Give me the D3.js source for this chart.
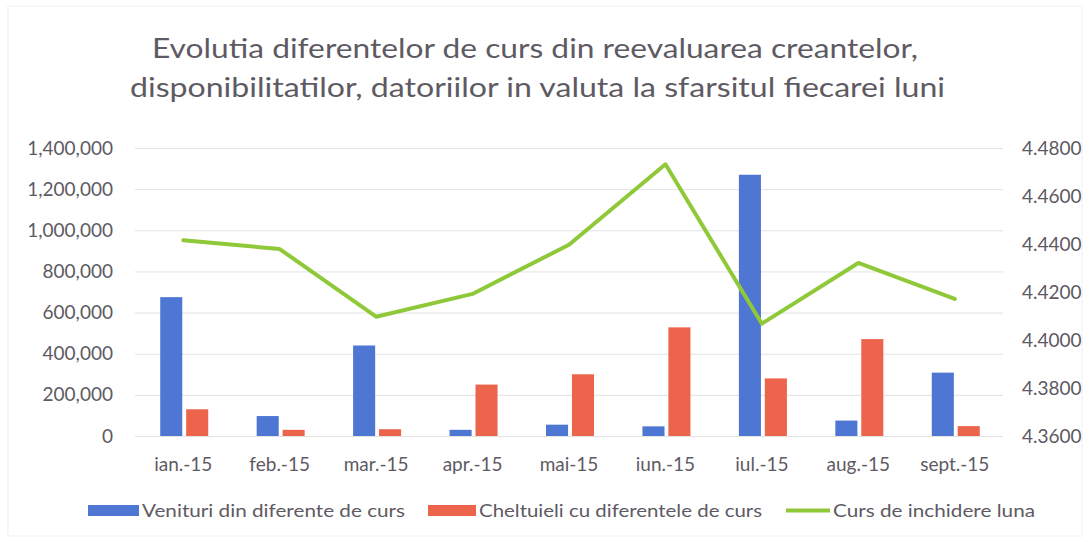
<!DOCTYPE html>
<html><head><meta charset="utf-8">
<script src="https://cdn.jsdelivr.net/npm/d3@7"></script>
<style>
html,body{margin:0;padding:0;background:#fff;}
svg{display:block;font-family:Lato,"Open Sans",sans-serif;}
</style></head>
<body><svg id="chart" width="1089" height="542"></svg>
<script>
const categories = ["ian.-15","feb.-15","mar.-15","apr.-15","mai-15","iun.-15","iul.-15","aug.-15","sept.-15"];
const venituri = [675000, 97000, 440000, 30000, 55000, 47000, 1270000, 75000, 308000];
const cheltuieli = [130000, 30000, 33000, 250000, 300000, 528000, 280000, 471000, 48000];
const curs = [4.4416, 4.4379, 4.4097, 4.4192, 4.4397, 4.4732, 4.4068, 4.4321, 4.4171];
const leftTicks = [0, 200000, 400000, 600000, 800000, 1000000, 1200000, 1400000];
const rightTicks = [4.36, 4.38, 4.40, 4.42, 4.44, 4.46, 4.48];
const titleLines = ["Evolutia diferentelor de curs din reevaluarea creantelor,",
                    "disponibilitatilor, datoriilor in valuta la sfarsitul fiecarei luni"];
const seriesNames = ["Venituri din diferente de curs","Cheltuieli cu diferentele de curs","Curs de inchidere luna"];

const colBlue = "#4d77d2", colRed = "#ec644c", colGreen = "#8fc93a", txt = "#5e5a63";
const svg = d3.select("#chart");

// faint scan frame
svg.append("rect").attr("x",8).attr("y",6).attr("width",1074).attr("height",530)
  .attr("fill","none").attr("stroke","#f0f0f0").attr("stroke-width",1);

const x = d3.scaleBand().domain(categories).range([135,1003]).paddingInner(0).paddingOuter(0);
const yL = d3.scaleLinear().domain([0,1400000]).range([436,148]);
const yR = d3.scaleLinear().domain([4.36,4.48]).range([436,148]);
const xs = d3.scaleBand().domain(["v","c"]).range([0,48]).paddingInner(0.15);
const cx = c => x(c) + x.bandwidth()/2;

// gridlines
svg.append("g").selectAll("line").data(leftTicks).join("line")
  .attr("x1",135).attr("x2",1003)
  .attr("y1",d=>yL(d)+0.5).attr("y2",d=>yL(d)+0.5)
  .attr("stroke","#e2e2e2").attr("stroke-width",1);

// left axis
const fmt = d3.format(",");
const gL = svg.append("g").attr("transform","translate(121,0)")
  .call(d3.axisLeft(yL).tickValues(leftTicks).tickFormat(d=>fmt(d)).tickSize(0).tickPadding(8));
gL.select(".domain").remove();
gL.selectAll("text").attr("fill",txt).attr("font-size",19).attr("font-family","Lato");

// right axis
const gR = svg.append("g").attr("transform","translate(1014,0)")
  .call(d3.axisRight(yR).tickValues(rightTicks).tickFormat(d3.format(".4f")).tickSize(0).tickPadding(8));
gR.select(".domain").remove();
gR.selectAll("text").attr("fill",txt).attr("font-size",19).attr("font-family","Lato");

// x axis
const gX = svg.append("g").attr("transform","translate(0,436)")
  .call(d3.axisBottom(x).tickSize(0).tickPadding(22));
gX.select(".domain").remove();
gX.selectAll("text").attr("fill",txt).attr("font-size",19).attr("font-family","Lato");

// bars
const bars = svg.append("g");
bars.selectAll(".v").data(categories).join("rect")
  .attr("x",(d)=>cx(d)-23+xs("v")).attr("width",xs.bandwidth())
  .attr("y",(d,i)=>yL(venituri[i])).attr("height",(d,i)=>yL(0)-yL(venituri[i]))
  .attr("fill",colBlue);
bars.selectAll(".c").data(categories).join("rect")
  .attr("x",(d)=>cx(d)-23+xs("c")).attr("width",xs.bandwidth())
  .attr("y",(d,i)=>yL(cheltuieli[i])).attr("height",(d,i)=>yL(0)-yL(cheltuieli[i]))
  .attr("fill",colRed);

// line
const line = d3.line().x((d,i)=>cx(categories[i])).y(d=>yR(d));
svg.append("path").datum(curs).attr("d",line)
  .attr("fill","none").attr("stroke",colGreen).attr("stroke-width",4)
  .attr("stroke-linejoin","round").attr("stroke-linecap","round");

// title
const tl = [{t:titleLines[0], x:152, w:766, y:58},{t:titleLines[1], x:130, w:815, y:97}];
svg.append("g").selectAll("text").data(tl).join("text")
  .attr("x",d=>d.x).attr("y",d=>d.y).text(d=>d.t)
  .attr("font-size",27).attr("fill",txt).attr("font-family","Lato")
  .attr("textLength",d=>d.w).attr("lengthAdjust","spacingAndGlyphs");

// legend
const leg = svg.append("g");
leg.append("rect").attr("x",88).attr("y",505).attr("width",51).attr("height",11).attr("fill",colBlue);
leg.append("rect").attr("x",428).attr("y",505).attr("width",48).attr("height",11).attr("fill",colRed);
leg.append("line").attr("x1",786).attr("x2",830).attr("y1",510.5).attr("y2",510.5)
  .attr("stroke",colGreen).attr("stroke-width",4);
const legText = [{t:seriesNames[0],x:142,w:263},{t:seriesNames[1],x:479,w:283},{t:seriesNames[2],x:833,w:202}];
leg.selectAll("text").data(legText).join("text")
  .attr("x",d=>d.x).attr("y",517).text(d=>d.t)
  .attr("font-size",18).attr("fill",txt).attr("font-family","Lato")
  .attr("textLength",d=>d.w).attr("lengthAdjust","spacingAndGlyphs");
</script></body></html>
